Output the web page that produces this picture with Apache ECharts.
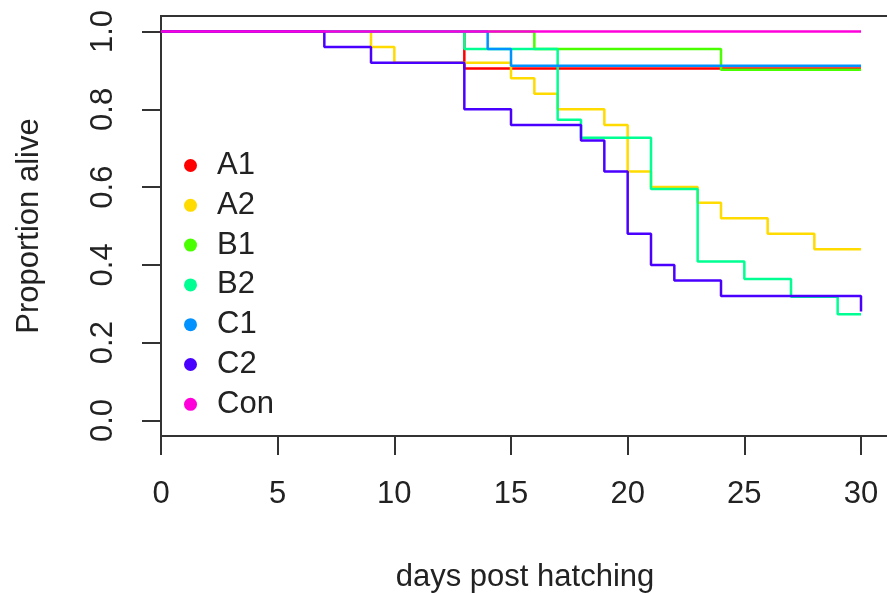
<!DOCTYPE html>
<html>
<head>
<meta charset="utf-8">
<script src="https://cdn.jsdelivr.net/npm/echarts@6/dist/echarts.min.js"></script>
<style>
  html, body { margin: 0; padding: 0; background: #fff; }
  #chart { width: 887px; height: 593px; }
</style>
</head>
<body>
<div id="chart"></div>
<script>
// survival curves (day where the step happens, proportion alive after it)
const groups = ["A1", "A2", "B1", "B2", "C1", "C2", "Con"];
const colors = ["#FF0000", "#FFDB00", "#49FF00", "#00FF92", "#0092FF", "#4900FF", "#FF00DB"];

const a1Days = [0, 13, 30];
const a1Surv = [1, 0.905, 0.905];
const a2Days = [0, 9, 10, 15, 16, 17, 19, 20, 21, 23, 24, 26, 28, 30];
const a2Surv = [1, 0.96, 0.92, 0.88, 0.84, 0.8, 0.76, 0.64, 0.6, 0.56, 0.52, 0.48, 0.44, 0.44];
const b1Days = [0, 16, 24, 30];
const b1Surv = [1, 0.955, 0.902, 0.902];
const b2Days = [0, 13, 17, 18, 21, 23, 25, 27, 29, 30];
const b2Surv = [1, 0.955, 0.773, 0.727, 0.595, 0.409, 0.364, 0.318, 0.273, 0.273];
const c1Days = [0, 14, 15, 30];
const c1Surv = [1, 0.955, 0.912, 0.912];
const c2Days = [0, 7, 9, 13, 15, 18, 19, 20, 21, 22, 24, 30];
const c2Surv = [1, 0.96, 0.92, 0.8, 0.76, 0.72, 0.64, 0.48, 0.4, 0.36, 0.32, 0.28];
const conDays = [0, 30];
const conSurv = [1, 1];

const xTicks = [0, 5, 10, 15, 20, 25, 30];
const yTicks = [0, 0.2, 0.4, 0.6, 0.8, 1];

const curves = [
  [a1Days, a1Surv],
  [a2Days, a2Surv],
  [b1Days, b1Surv],
  [b2Days, b2Surv],
  [c1Days, c1Surv],
  [c2Days, c2Surv],
  [conDays, conSurv],
];

const font = "Liberation Sans";
const ink = "#222";

// later series are drawn on top, like lines() in R
const series = curves.map((c, i) => ({
  name: groups[i],
  type: "line",
  step: "end",
  showSymbol: false,
  data: c[0].map((d, k) => [d, c[1][k]]),
  lineStyle: { width: 2.5, color: colors[i] },
  itemStyle: { color: colors[i] },
}));

const chart = echarts.init(document.getElementById("chart"), null, { renderer: "canvas" });
chart.setOption({
  animation: false,
  backgroundColor: "#fff",
  grid: {
    left: 161,
    top: 16,
    width: 728,
    height: 420,
    outerBoundsMode: "none",
    show: true,
    borderColor: "#333",
    borderWidth: 2,
  },
  legend: {
    data: groups.map((g) => ({ name: g, icon: "circle" })),
    orient: "vertical",
    left: 179,
    top: 145,
    itemWidth: 43,
    itemHeight: 13,
    itemGap: 8.8,
    textStyle: { fontFamily: font, fontSize: 31, lineHeight: 30, color: ink },
  },
  xAxis: {
    type: "value",
    min: 0,
    max: 31.2,
    name: "days post hatching",
    nameLocation: "middle",
    nameGap: 126,
    nameTextStyle: { fontFamily: font, fontSize: 31, color: ink },
    splitLine: { show: false },
    axisLine: { show: true, onZero: false, lineStyle: { color: "#333", width: 2 } },
    axisTick: { show: true, length: 19, customValues: xTicks, lineStyle: { color: "#333", width: 2 } },
    axisLabel: {
      customValues: xTicks,
      margin: 43,
      fontFamily: font,
      fontSize: 31,
      color: ink,
    },
  },
  yAxis: {
    type: "value",
    min: -0.04,
    max: 1.04,
    name: "Proportion alive",
    nameLocation: "middle",
    nameGap: 116,
    nameTextStyle: { fontFamily: font, fontSize: 31, color: ink },
    splitLine: { show: false },
    axisLine: { show: true, lineStyle: { color: "#333", width: 2 } },
    axisTick: { show: true, length: 19, customValues: yTicks, lineStyle: { color: "#333", width: 2 } },
    axisLabel: {
      customValues: yTicks,
      rotate: 90,
      margin: 42,
      fontFamily: font,
      fontSize: 31,
      color: ink,
      formatter: (v) => v.toFixed(1),
    },
  },
  series,
});
</script>
</body>
</html>
